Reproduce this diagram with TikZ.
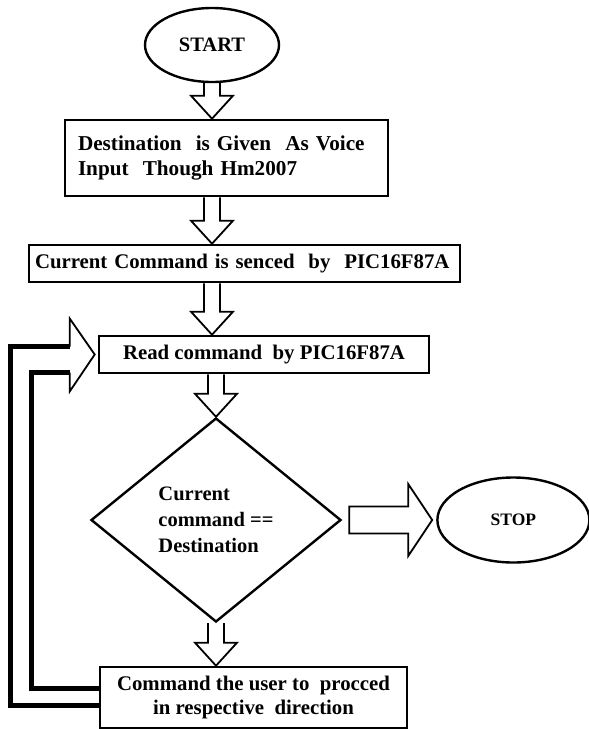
\documentclass[tikz,border=0pt]{standalone}
\usepackage{fontspec}
\setmainfont{Liberation Serif}
\usepackage{tikz}
\usetikzlibrary{shapes,arrows,positioning,calc}

\tikzset{rect/.style={
    draw,
    rectangle,
    line width=2.6pt,
    inner sep=0pt,
    align=center,
    font=\fontsize{20.8}{23.5}\selectfont\bfseries,
  }}
\tikzset{term/.style={
    draw,
    ellipse,
    line width=2.4pt,
    inner sep=0pt,
    font=\fontsize{20.5}{24}\selectfont\bfseries,
  }}
\tikzset{decide/.style={
    draw,
    diamond,
    line width=2.4pt,
    inner sep=0pt,
    align=left,
    font=\fontsize{20.5}{26}\selectfont\bfseries,
  }}
\tikzset{hollow/.style={draw, line width=1.8pt, line join=miter}}
\tikzset{loopline/.style={draw, line width=4.5pt, line join=miter}}

% hollow block arrows between nodes
\newcommand{\hollowdown}[2]{%
  \draw[hollow] let \p1=(#1), \p2=(#2) in
    (\x1-8pt,\y1) -- (\x1-8pt,\y2+23pt) -- (\x1-21pt,\y2+23pt) -- (\x1,\y2)
    -- (\x1+21pt,\y2+23pt) -- (\x1+8pt,\y2+23pt) -- (\x1+8pt,\y1);}
\newcommand{\hollowright}[2]{%
  \draw[hollow] let \p1=(#1), \p2=(#2) in
    (\x1+7pt,\y1+13.5pt) -- (\x2-28pt,\y1+13.5pt) -- (\x2-28pt,\y1+36pt) -- (\x2-4pt,\y1)
    -- (\x2-28pt,\y1-36pt) -- (\x2-28pt,\y1-13.5pt) -- (\x1+7pt,\y1-13.5pt) -- cycle;}

\begin{document}
\begin{tikzpicture}[x=1pt, y=-1pt, node distance=95pt]
        \useasboundingbox (0,0) rectangle (589,729);

        \node (start) [term, minimum width=134pt, minimum height=74pt] at (212,45) {START};

        \node (given) [rect, minimum width=323pt, minimum height=76pt,
        text width=297pt, align=left, font=\fontsize{21.2}{25}\selectfont\bfseries] at (226.5,158)
        {Destination\ \ is Given\ \ As Voice\\Input\ \ Though Hm2007};

        \node (sense) [rect, minimum width=431pt, minimum height=37pt,
        text width=419pt, align=left] at (244.5,263.5)
        {Current Command is senced\ \ by\ \ PIC16F87A};

        \node (read) [rect, minimum width=330pt, minimum height=37pt] at (264,354.5)
        {Read command\ \ by PIC16F87A};

        \node (check) [decide, minimum width=250pt, minimum height=204pt] at (216,520)
        {Current\\command ==\\Destination};

        \node (stop) [term, right=94pt of check, minimum width=152pt, minimum height=85pt,
        font=\fontsize{17.5}{22}\selectfont\bfseries] {STOP};

        \node (proceed) [rect, minimum width=307pt, minimum height=61pt] at (253.5,697.5)
        {Command the user to\ \ procced\\in respective\ \ direction};

        \hollowdown{start.south}{given.north}
        \hollowdown{start |- given.south}{sense.north}
        \hollowdown{start |- sense.south}{read.north}
        \hollowdown{check |- read.south}{check.north}
        \hollowdown{check.south}{proceed.north}
        \hollowright{check.east}{stop.west}

        % loop back from proceed to read
        \draw[loopline] let \p1=(proceed.west), \p2=(read.west) in
        (\x1,\y1-8pt) -- (\x2-87pt,\y1-8pt) -- (\x2-87pt,\y2+8pt) -- (\x2-28pt,\y2+8pt)
        (\x1,\y1+9pt) -- (\x2-66pt,\y1+9pt) -- (\x2-66pt,\y2-18pt) -- (\x2-28pt,\y2-18pt);
        \draw[hollow] let \p2=(read.west) in
        (\x2-28pt,\y2+8pt) -- (\x2-28pt,\y2+36pt) -- (\x2-3pt,\y2) -- (\x2-28pt,\y2-37pt) -- (\x2-28pt,\y2-18pt);

      \end{tikzpicture}
\end{document}
